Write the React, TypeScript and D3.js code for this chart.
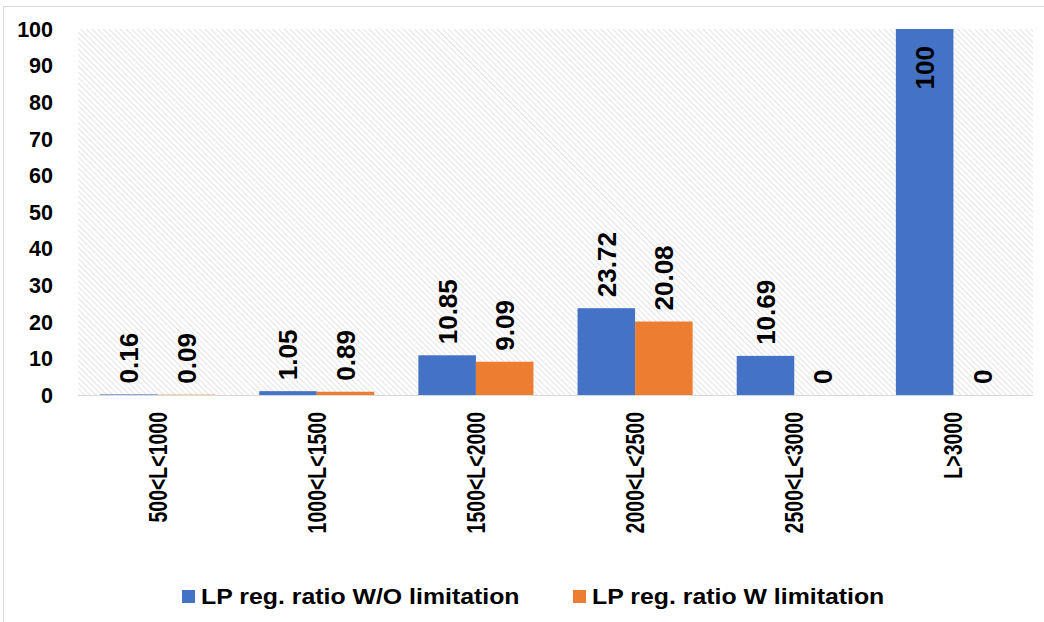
import React from "react";
import * as d3 from "d3";

const categories = ["500<L<1000", "1000<L<1500", "1500<L<2000", "2000<L<2500", "2500<L<3000", "L>3000"];
const seriesNames = ["LP reg. ratio W/O limitation", "LP reg. ratio W limitation"];
const woLimitation = [0.16, 1.05, 10.85, 23.72, 10.69, 100];
const wLimitation = [0.09, 0.89, 9.09, 20.08, 0, 0];
const yTicks = [0, 10, 20, 30, 40, 50, 60, 70, 80, 90, 100];
const colors = ["#4472C4", "#ED7D31"];

const W = 1044;
const H = 622;
const margin = { left: 78, right: 11, top: 29, bottom: 227 };
const FONT = "'Liberation Sans', Arial, sans-serif";

export default function App() {
  const plotW = W - margin.left - margin.right;
  const plotH = H - margin.top - margin.bottom;
  const x0 = d3.scaleBand().domain(categories).range([margin.left, margin.left + plotW]).paddingInner(0.277).paddingOuter(0.1385);
  const x1 = d3.scaleBand().domain(["0", "1"]).range([0, x0.bandwidth()]);
  const y = d3.scaleLinear().domain([0, 100]).range([margin.top + plotH, margin.top]);
  const series = [woLimitation, wLimitation];

  return (
    <svg width={W} height={H} style={{ position: "absolute", left: 0, top: 0, background: "#fff" }}>
      <defs>
        <pattern id="hatch" width="4" height="4" patternUnits="userSpaceOnUse" patternTransform="rotate(-45)">
          <rect width="4" height="4" fill="#ffffff" />
          <line x1="0" y1="0" x2="0" y2="4" stroke="#d0d0d0" strokeWidth="1.2" />
        </pattern>
      </defs>
      <rect x={3.5} y={6.5} width={W + 20} height={H + 20} fill="none" stroke="#d9d9d9" strokeWidth={1} />
      <rect x={margin.left} y={margin.top} width={plotW} height={plotH} fill="url(#hatch)" />
      <line x1={margin.left} x2={margin.left + plotW} y1={y(0) + 0.5} y2={y(0) + 0.5} stroke="#d9d9d9" strokeWidth={1} />
      {yTicks.map((t) => (
        <text key={t} x={53} y={y(t)} dy="0.36em" textAnchor="end" fontFamily={FONT} fontWeight="bold" fontSize={21.5} fill="#000">
          {t}
        </text>
      ))}
      {categories.map((c, i) => (
        <g key={c}>
          {series.map((s, k) => {
            const bx = (x0(c) as number) + (x1(String(k)) as number);
            const bw = x1.bandwidth();
            const v = s[i];
            const top = y(v);
            const cx = bx + bw / 2;
            const inside = v >= 90;
            const ly = inside ? top + 17 : top - 11;
            return (
              <g key={k}>
                {v > 0 && <rect x={bx} y={top} width={bw} height={y(0) - top} fill={colors[k]} />}
                <text
                  transform={`translate(${cx},${ly}) rotate(-90)`}
                  dy="0.36em"
                  textAnchor={inside ? "end" : "start"}
                  fontFamily={FONT}
                  fontWeight="bold"
                  fontSize={26}
                  fill="#000"
                >
                  {String(v)}
                </text>
              </g>
            );
          })}
          <text
            transform={`translate(${(x0(c) as number) + x0.bandwidth() / 2},412) rotate(-90) scale(0.78,1)`}
            dy="0.36em"
            textAnchor="end"
            fontFamily={FONT}
            fontWeight="bold"
            fontSize={25}
            fill="#000"
          >
            {c}
          </text>
        </g>
      ))}
      {seriesNames.map((n, k) => {
        const lx = k === 0 ? 182 : 573;
        return (
          <g key={n}>
            <rect x={lx} y={590} width={13} height={13} fill={colors[k]} />
            <text
              transform={`translate(${lx + 19},${596}) scale(1.13,1)`}
              dy="0.36em"
              fontFamily={FONT}
              fontWeight="bold"
              fontSize={22}
              fill="#000"
            >
              {n}
            </text>
          </g>
        );
      })}
    </svg>
  );
}
